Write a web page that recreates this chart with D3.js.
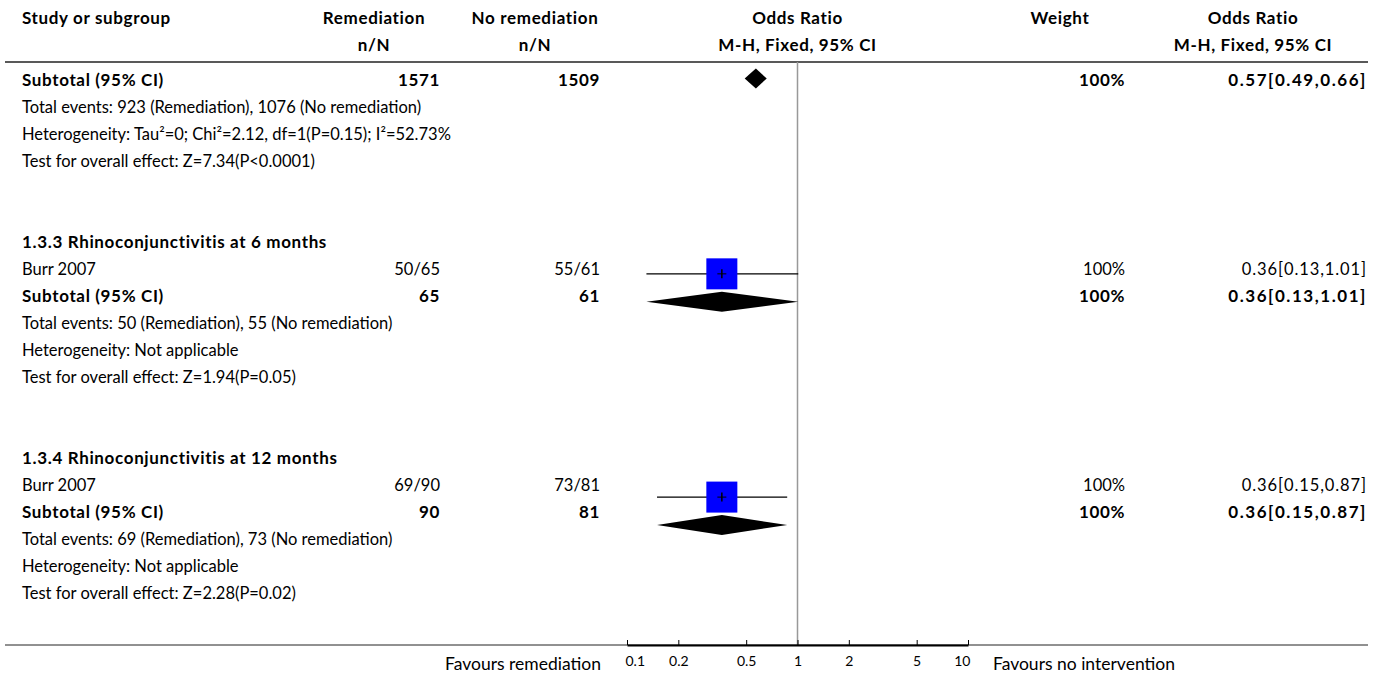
<!DOCTYPE html>
<html>
<head>
<meta charset="utf-8">
<script src="https://cdn.jsdelivr.net/npm/d3@7"></script>
<style>
  html, body { margin: 0; padding: 0; background: #fff; }
  svg { display: block; font-family: Lato, "Noto Sans", sans-serif; }
</style>
</head>
<body>
<svg id="forest" width="1375" height="677"></svg>
<script>
// ---- DATA ----
const headerTop = ["Study or subgroup", "Remediation", "No remediation", "Odds Ratio", "Weight", "Odds Ratio"];
const headerSub = ["", "n/N", "n/N", "M-H, Fixed, 95% CI", "", "M-H, Fixed, 95% CI"];

const rowText = [
  "Subtotal (95% CI)",
  "Total events: 923 (Remediation), 1076 (No remediation)",
  "Heterogeneity: Tau²=0; Chi²=2.12, df=1(P=0.15); I²=52.73%",
  "Test for overall effect: Z=7.34(P<0.0001)",
  "", "",
  "1.3.3 Rhinoconjunctivitis at 6 months",
  "Burr 2007",
  "Subtotal (95% CI)",
  "Total events: 50 (Remediation), 55 (No remediation)",
  "Heterogeneity: Not applicable",
  "Test for overall effect: Z=1.94(P=0.05)",
  "", "",
  "1.3.4 Rhinoconjunctivitis at 12 months",
  "Burr 2007",
  "Subtotal (95% CI)",
  "Total events: 69 (Remediation), 73 (No remediation)",
  "Heterogeneity: Not applicable",
  "Test for overall effect: Z=2.28(P=0.02)"
];
// total = pooled (diamond, bold), study = square, group = bold heading
const rowKind = ["total", "info", "info", "info", "", "", "group", "study", "total", "info", "info", "info", "", "", "group", "study", "total", "info", "info", "info"];
const colRemediation   = {0: "1571", 7: "50/65", 8: "65", 15: "69/90", 16: "90"};
const colNoRemediation = {0: "1509", 7: "55/61", 8: "61", 15: "73/81", 16: "81"};
const colWeight        = {0: "100%", 7: "100%", 8: "100%", 15: "100%", 16: "100%"};
const weightValue      = {7: 100, 15: 100};
const orEstimate = {0: 0.57, 7: 0.36, 8: 0.36, 15: 0.36, 16: 0.36};
const orLower    = {0: 0.49, 7: 0.13, 8: 0.13, 15: 0.15, 16: 0.15};
const orUpper    = {0: 0.66, 7: 1.01, 8: 1.01, 15: 0.87, 16: 0.87};

const axisTicks = [0.1, 0.2, 0.5, 1, 2, 5, 10];
const leftLabel = "Favours remediation";
const rightLabel = "Favours no intervention";

// ---- LAYOUT ----
const svg = d3.select("#forest");
const fontReg = 16.5;
const fontBold = 17;
const boldSpacing = 0.65;

const x = d3.scaleLog().domain([0.1, 10]).range([627, 968]);
// text rows and plotted marks use slightly different pitches in the original
const yText = d3.scaleLinear().domain([0, 19]).range([80, 593]);
const yMark = d3.scaleLinear().domain([0, 16]).range([78.5, 525]);
const boxSize = d3.scaleSqrt().domain([0, 100]).range([0, 31]);

const colX = { label: 22, rem: 440, noRem: 600, weight: 1125, ci: 1367 };
const headX = [22, 374, 535, x(1), 1060, 1253];
const headAnchor = ["start", "middle", "middle", "middle", "middle", "middle"];

const headerLineY = 62;
const axisY = 645;

function fmtCI(i) {
  return `${orEstimate[i].toFixed(2)}[${orLower[i].toFixed(2)},${orUpper[i].toFixed(2)}]`;
}

// ---- HEADER ----
const head = svg.append("g")
  .attr("font-weight", "bold")
  .attr("font-size", fontBold)
  .attr("letter-spacing", boldSpacing)
  .attr("fill", "#000");
head.selectAll("text.h1")
  .data(headerTop)
  .join("text")
  .attr("class", "h1")
  .attr("x", (d, i) => headX[i])
  .attr("y", 18)
  .attr("dy", "0.35em")
  .attr("text-anchor", (d, i) => headAnchor[i])
  .text(d => d);
head.selectAll("text.h2")
  .data(headerSub)
  .join("text")
  .attr("class", "h2")
  .attr("x", (d, i) => headX[i])
  .attr("y", 45)
  .attr("dy", "0.35em")
  .attr("text-anchor", (d, i) => headAnchor[i])
  .text(d => d);

svg.append("line")
  .attr("x1", 5).attr("x2", 1368)
  .attr("y1", headerLineY).attr("y2", headerLineY)
  .attr("stroke", "#222").attr("stroke-width", 1.5);

// null line
svg.append("line")
  .attr("x1", x(1)).attr("x2", x(1))
  .attr("y1", headerLineY).attr("y2", axisY)
  .attr("stroke", "#999").attr("stroke-width", 1.5);

// ---- ROWS ----
const rowsG = svg.append("g").attr("fill", "#000");
const idx = d3.range(rowText.length);
const isBold = i => rowKind[i] === "total" || rowKind[i] === "group";

function styleText(sel, extraSpacing) {
  sel.attr("font-weight", i => isBold(i) ? "bold" : "normal")
    .attr("font-size", i => isBold(i) ? fontBold : fontReg)
    .attr("letter-spacing", i => (isBold(i) ? boldSpacing : 0) + (extraSpacing || 0));
}

rowsG.selectAll("text.label")
  .data(idx)
  .join("text")
  .attr("class", "label")
  .attr("x", colX.label)
  .attr("y", i => yText(i))
  .attr("dy", "0.35em")
  .call(styleText)
  .text(i => rowText[i]);

const numCols = [
  { key: "rem", src: colRemediation },
  { key: "noRem", src: colNoRemediation },
  { key: "weight", src: colWeight }
];
numCols.forEach(c => {
  const keys = Object.keys(c.src).map(Number);
  rowsG.selectAll(`text.${c.key}`)
    .data(keys)
    .join("text")
    .attr("class", c.key)
    .attr("x", colX[c.key])
    .attr("y", i => yText(i))
    .attr("dy", "0.35em")
    .attr("text-anchor", "end")
    .call(styleText)
    .text(i => c.src[i]);
});

const ciRows = Object.keys(orEstimate).map(Number);
rowsG.selectAll("text.ci")
  .data(ciRows)
  .join("text")
  .attr("class", "ci")
  .attr("x", colX.ci)
  .attr("y", i => yText(i))
  .attr("dy", "0.35em")
  .attr("text-anchor", "end")
  .call(styleText, 0.9)
  .text(i => fmtCI(i));

// ---- MARKS ----
const marksG = svg.append("g");
const studyRows = ciRows.filter(i => rowKind[i] === "study");
const totalRows = ciRows.filter(i => rowKind[i] === "total");

// CI lines
marksG.selectAll("line.ci")
  .data(studyRows)
  .join("line")
  .attr("class", "ci")
  .attr("x1", i => x(orLower[i]))
  .attr("x2", i => x(orUpper[i]))
  .attr("y1", i => yMark(i))
  .attr("y2", i => yMark(i))
  .attr("stroke", "#000").attr("stroke-width", 1.2);

// weight boxes
marksG.selectAll("rect.box")
  .data(studyRows)
  .join("rect")
  .attr("class", "box")
  .attr("x", i => x(orEstimate[i]) - boxSize(weightValue[i]) / 2)
  .attr("y", i => yMark(i) - boxSize(weightValue[i]) / 2)
  .attr("width", i => boxSize(weightValue[i]))
  .attr("height", i => boxSize(weightValue[i]))
  .attr("fill", "#0000ff");

// small cross at the point estimate, on top of the box
const crossHalf = 4.5;
marksG.selectAll("line.ptv")
  .data(studyRows)
  .join("line")
  .attr("class", "ptv")
  .attr("x1", i => x(orEstimate[i]))
  .attr("x2", i => x(orEstimate[i]))
  .attr("y1", i => yMark(i) - crossHalf)
  .attr("y2", i => yMark(i) + crossHalf)
  .attr("stroke", "#000").attr("stroke-width", 1.5);
marksG.selectAll("line.pth")
  .data(studyRows)
  .join("line")
  .attr("class", "pth")
  .attr("x1", i => x(orEstimate[i]) - crossHalf)
  .attr("x2", i => x(orEstimate[i]) + crossHalf)
  .attr("y1", i => yMark(i))
  .attr("y2", i => yMark(i))
  .attr("stroke", "#000").attr("stroke-width", 1);

// diamonds
const diamondHalf = 10;
marksG.selectAll("path.diamond")
  .data(totalRows)
  .join("path")
  .attr("class", "diamond")
  .attr("d", i => {
    const y = yMark(i);
    return `M${x(orLower[i])},${y}L${x(orEstimate[i])},${y - diamondHalf}L${x(orUpper[i])},${y}L${x(orEstimate[i])},${y + diamondHalf}Z`;
  })
  .attr("fill", "#000");

// ---- AXIS ----
svg.append("line")
  .attr("x1", 5).attr("x2", 1368)
  .attr("y1", axisY).attr("y2", axisY)
  .attr("stroke", "#222").attr("stroke-width", 1);

const axisG = svg.append("g")
  .attr("transform", `translate(0,${axisY})`)
  .call(d3.axisTop(x).tickValues(axisTicks).tickFormat(d3.format("")).tickSize(5).tickSizeOuter(0));
axisG.select(".domain").attr("stroke", "#000").attr("stroke-width", 2);
axisG.selectAll(".tick line").attr("stroke", "#000");
const nTicks = axisTicks.length;
axisG.selectAll(".tick text")
  .attr("y", 16)
  .attr("dy", "0.35em")
  .attr("font-size", 14)
  .attr("font-family", "Lato, sans-serif")
  .attr("fill", "#000")
  .attr("text-anchor", (d, i) => i === 0 ? "start" : (i === nTicks - 1 ? "end" : "middle"))
  .attr("dx", (d, i) => i === 0 ? -2 : (i === nTicks - 1 ? 2 : 0));

svg.append("text")
  .attr("x", 601).attr("y", axisY + 19).attr("dy", "0.35em")
  .attr("text-anchor", "end").attr("font-size", 17.5)
  .text(leftLabel);
svg.append("text")
  .attr("x", 993).attr("y", axisY + 19).attr("dy", "0.35em")
  .attr("text-anchor", "start").attr("font-size", 17.5)
  .text(rightLabel);
</script>
</body>
</html>
